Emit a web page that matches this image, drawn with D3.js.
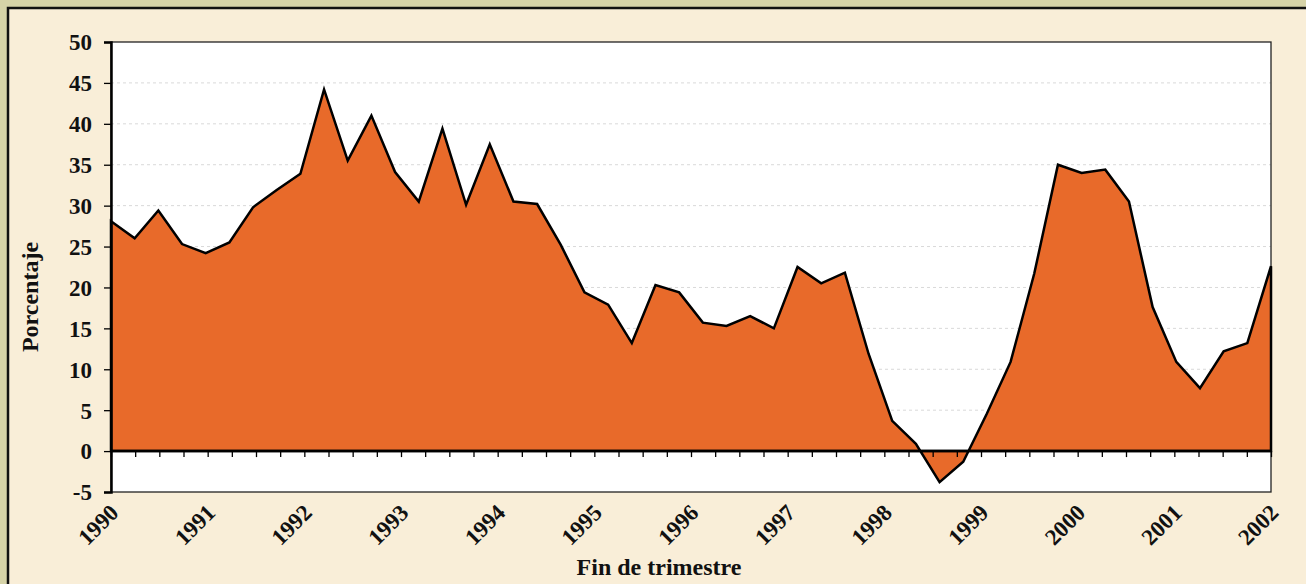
<!DOCTYPE html>
<html>
<head>
<meta charset="utf-8">
<script src="https://cdn.jsdelivr.net/npm/d3@7"></script>
<style>
  html, body { margin: 0; padding: 0; background: #d6d3a8; }
  svg { display: block; }
  text { font-family: "Liberation Serif", "Times New Roman", serif; font-weight: bold; fill: #111; }
</style>
</head>
<body>
<div id="chart"></div>
<script>
// quarterly values, percent
var values = [
  28.1, 26.0, 29.4, 25.3, 24.2, 25.5, 29.8, 31.9, 33.9, 44.2,
  35.5, 41.0, 34.1, 30.5, 39.4, 30.1, 37.5, 30.5, 30.2, 25.2,
  19.4, 17.9, 13.2, 20.3, 19.4, 15.7, 15.3, 16.5, 15.0, 22.5,
  20.5, 21.8, 11.9, 3.7, 0.9, -3.8, -1.3, 4.6, 10.9, 21.7,
  35.0, 34.0, 34.4, 30.5, 17.6, 10.9, 7.7, 12.2, 13.2, 22.6
];
var years = [1990, 1991, 1992, 1993, 1994, 1995, 1996, 1997, 1998, 1999, 2000, 2001, 2002];
var yTicks = [-5, 0, 5, 10, 15, 20, 25, 30, 35, 40, 45, 50];

var width = 1306, height = 584;
var margin = { left: 111, top: 42, right: 35, bottom: 92 };
var plotW = width - margin.left - margin.right;
var plotH = height - margin.top - margin.bottom;

var svg = d3.select("#chart").append("svg")
  .attr("width", width)
  .attr("height", height);

// outer frame
svg.append("rect")
  .attr("x", 8).attr("y", 8)
  .attr("width", width + 10).attr("height", height + 10)
  .attr("fill", "#f9eed8")
  .attr("stroke", "#111")
  .attr("stroke-width", 2.5);

var x = d3.scaleLinear().domain([0, values.length - 1]).range([margin.left, margin.left + plotW]);
// quarter ticks, labels every 4
var xq = d3.scaleLinear().domain([0, (years.length - 1) * 4]).range([margin.left, margin.left + plotW]);
var y = d3.scaleLinear().domain([-5, 50]).range([margin.top + plotH, margin.top]);

// plot background
svg.append("rect")
  .attr("x", margin.left).attr("y", margin.top)
  .attr("width", plotW).attr("height", plotH)
  .attr("fill", "#fff");

// dashed gridlines
svg.selectAll(".grid")
  .data(yTicks.filter(function(d) { return d > 0 && d < 50; }))
  .enter().append("line")
  .attr("x1", margin.left).attr("x2", margin.left + plotW)
  .attr("y1", function(d) { return y(d); })
  .attr("y2", function(d) { return y(d); })
  .attr("stroke", "#d9d9d9")
  .attr("stroke-width", 1)
  .attr("stroke-dasharray", "3,3");

// plot border
svg.append("rect")
  .attr("x", margin.left).attr("y", margin.top)
  .attr("width", plotW).attr("height", plotH)
  .attr("fill", "none")
  .attr("stroke", "#222")
  .attr("stroke-width", 1.3);

// area
var area = d3.area()
  .x(function(d, i) { return x(i); })
  .y0(y(0))
  .y1(function(d) { return y(d); });

svg.append("path")
  .datum(values)
  .attr("d", area)
  .attr("fill", "#e86a2a")
  .attr("stroke", "#000")
  .attr("stroke-width", 2.5)
  .attr("stroke-linejoin", "miter");

// zero line with quarter ticks
svg.append("line")
  .attr("x1", margin.left).attr("x2", margin.left + plotW)
  .attr("y1", y(0)).attr("y2", y(0))
  .attr("stroke", "#000").attr("stroke-width", 2.5);

svg.append("g")
  .attr("transform", "translate(0," + y(0) + ")")
  .call(d3.axisBottom(xq).ticks(48).tickSize(6).tickFormat(""))
  .call(function(g) { g.select(".domain").remove(); })
  .call(function(g) { g.selectAll("line").attr("stroke", "#000").attr("stroke-width", 1.3); });

// left axis
var yAxis = svg.append("g")
  .attr("transform", "translate(" + margin.left + ",0)")
  .call(d3.axisLeft(y).tickValues(yTicks).tickSize(7).tickPadding(12)
    .tickFormat(function(d) { return String(d); }));
yAxis.select(".domain").attr("stroke", "#000").attr("stroke-width", 2.5);
yAxis.selectAll("line").attr("stroke", "#000").attr("stroke-width", 1.3);
yAxis.selectAll("text")
  .attr("font-size", 23)
  .attr("dy", "0.34em")
  .attr("font-family", "Liberation Serif, serif")
  .attr("font-weight", "bold")
  .attr("fill", "#111");

// year labels
svg.selectAll(".year")
  .data(years)
  .enter().append("text")
  .attr("text-anchor", "end")
  .attr("font-size", 23)
  .attr("transform", function(d, i) {
    return "translate(" + (xq(i * 4) + 9) + "," + (y(-5) + 22) + ") rotate(-45)";
  })
  .text(function(d) { return d; });

// titles
svg.append("text")
  .attr("text-anchor", "middle")
  .attr("font-size", 24)
  .attr("transform", "translate(38,297) rotate(-90)")
  .text("Porcentaje");

svg.append("text")
  .attr("text-anchor", "middle")
  .attr("font-size", 24)
  .attr("x", 659).attr("y", 575)
  .text("Fin de trimestre");
</script>
</body>
</html>
